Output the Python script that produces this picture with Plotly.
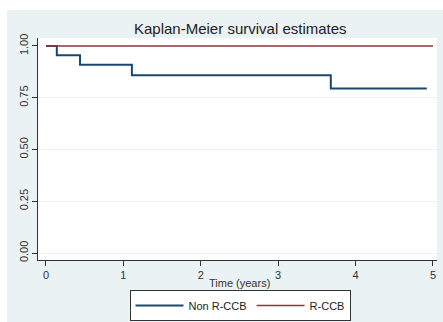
import plotly.graph_objects as go

# Data
non_times = [0, 0.14, 0.44, 1.11, 3.68, 4.92]
non_surv = [1.0, 0.955, 0.909, 0.859, 0.795, 0.795]
r_times = [0, 5.0]
r_surv = [1.0, 1.0]

x_ticks = [0, 1, 2, 3, 4, 5]
y_ticks = [0, 0.25, 0.5, 0.75, 1.0]
y_ticklabels = ["0.00", "0.25", "0.50", "0.75", "1.00"]

W, H = 443, 322
L, R, T, B = 38, 6, 38, 62
pw, ph = W - L - R, H - T - B
BG = "#EAF2F3"
FONT = "Liberation Sans, Arial, sans-serif"

fig = go.Figure()
fig.add_trace(go.Scatter(x=non_times, y=non_surv, mode="lines", line_shape="hv",
                         line=dict(color="#1a476f", width=2), name="Non R-CCB"))
fig.add_trace(go.Scatter(x=r_times, y=r_surv, mode="lines",
                         line=dict(color="#90353b", width=1.6), name="R-CCB"))

fig.update_layout(
    width=W, height=H,
    margin=dict(l=L, r=R, t=T, b=B, autoexpand=False),
    paper_bgcolor=BG, plot_bgcolor="white",
    font=dict(family=FONT, size=11, color="#333"),
    showlegend=True,
    legend=dict(orientation="h", x=(240 - L) / pw, xanchor="center",
                y=(260 - 305.5) / ph, yanchor="middle",
                bgcolor="white", bordercolor="#333", borderwidth=1,
                font=dict(size=11, color="#222"), itemwidth=48),
)
fig.update_xaxes(range=[-0.103, 5.052], tickvals=x_ticks, showgrid=False, zeroline=False,
                 showline=True, linecolor="#333", linewidth=1, ticks="outside", ticklen=5,
                 tickcolor="#333", tickfont=dict(size=11, color="#333"), automargin=False)
fig.update_yaxes(range=[-0.0338, 1.0386], tickvals=y_ticks, ticktext=y_ticklabels,
                 tickangle=-90, showgrid=True, gridcolor=BG, gridwidth=1, zeroline=False,
                 showline=True, linecolor="#333", linewidth=1, ticks="outside", ticklen=5,
                 tickcolor="#333", tickfont=dict(size=11, color="#333"), automargin=False)

# white outer strips at top and left
fig.add_shape(type="rect", xref="paper", yref="paper", x0=-L / pw, x1=(W - L) / pw,
              y0=(H - B - 10) / ph, y1=(H - B) / ph,
              fillcolor="white", line_width=0, layer="below")
fig.add_shape(type="rect", xref="paper", yref="paper", x0=-L / pw, x1=(7 - L) / pw,
              y0=-B / ph, y1=(H - B) / ph,
              fillcolor="white", line_width=0, layer="below")

fig.add_annotation(text="Kaplan-Meier survival estimates", xref="paper", yref="paper",
                   x=(240 - L) / pw, y=1 + (38 - 28) / ph, xanchor="center", yanchor="middle",
                   showarrow=False, font=dict(size=15, color="#222"))
fig.add_annotation(text="Time (years)", xref="paper", yref="paper",
                   x=(239 - L) / pw, y=-(283 - 260) / ph, xanchor="center", yanchor="middle",
                   showarrow=False, font=dict(size=11, color="#333"))

fig.write_html("out.html", config={"displayModeBar": False},
               post_script="document.body.style.margin='0';document.body.style.overflow='hidden';")
